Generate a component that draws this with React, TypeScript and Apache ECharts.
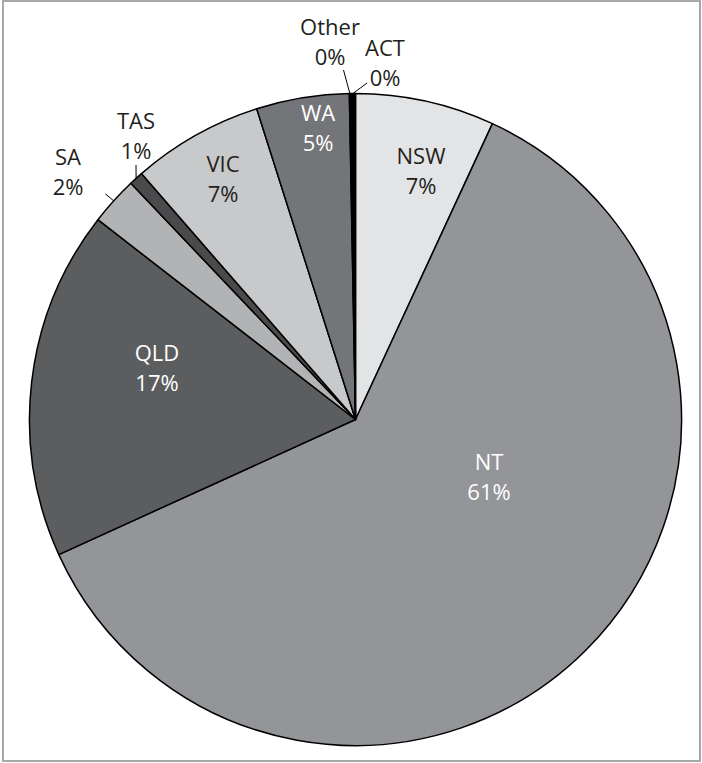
import React, { useEffect, useRef } from 'react';
import * as echarts from 'echarts';

// ---- data ----
const categories = ['NSW', 'NT', 'QLD', 'SA', 'TAS', 'VIC', 'WA', 'Other', 'ACT'];
const shares = [6.9, 61.3, 17.3, 2.4, 0.7, 6.5, 4.6, 0.05, 0.25];

// ---- styles / layout ----
const sliceColors = ['#e3e4e5', '#939598', '#5c5d5f', '#b2b3b5', '#4a4a4c', '#c8c9cb', '#747578', '#9a9a9a', '#000000'];
const labelColors = ['#231f20', '#ffffff', '#ffffff', '#231f20', '#231f20', '#231f20', '#ffffff', '#231f20', '#231f20'];
const outsideLabel = [false, false, false, true, true, false, false, true, true];
const CENTER = [355.5, 419.5];
const RADIUS = 326;
const labelAnchors: number[][] = [
  [421, 170], [489, 476], [157, 367], [68, 171], [136, 135], [223, 178], [318, 127], [330, 41], [385, 62],
];
const leaderEnds: (number[] | null)[] = [
  null, null, null, [105.5, 194], [136, 165], null, null, [343.5, 70], [367, 83],
];
const FONT = '"Open Sans", "Noto Sans", sans-serif';

export default function App() {
  const ref = useRef<HTMLDivElement>(null);
  useEffect(() => {
    if (!ref.current) return;
    const chart = echarts.init(ref.current, undefined, { renderer: 'svg' });
    const total = shares.reduce((a, b) => a + b, 0);
    const midAngle = (i: number) => {
      let cum = 0;
      for (let k = 0; k < i; k++) cum += shares[k];
      return ((cum + shares[i] / 2) / total) * Math.PI * 2;
    };
    const data = categories.map((name, i) => ({
      name,
      value: shares[i],
      itemStyle: { color: sliceColors[i] },
      label: { color: labelColors[i], position: outsideLabel[i] ? 'outside' : 'inside' },
      labelLine: { show: outsideLabel[i] },
    }));
    chart.setOption({
      animation: false,
      graphic: [
        {
          type: 'rect',
          shape: { x: 3, y: 1, width: 697, height: 760 },
          style: { fill: 'none', stroke: '#a8a8a8', lineWidth: 2 },
          z: 0,
        },
      ],
      series: [
        {
          type: 'pie',
          center: CENTER,
          radius: RADIUS,
          startAngle: 90,
          clockwise: true,
          avoidLabelOverlap: false,
          minShowLabelAngle: 0,
          percentPrecision: 2,
          data,
          itemStyle: { borderColor: '#000000', borderWidth: 1.5 },
          emphasis: { disabled: true },
          label: {
            show: true,
            fontFamily: FONT,
            fontSize: 22,
            lineHeight: 30,
            align: 'center',
            formatter: (p: any) => `${p.name}\n${Math.round(p.percent)}%`,
          },
          labelLine: { show: true, lineStyle: { color: '#000000', width: 1 }, length: 8, length2: 0 },
          labelLayout: (p: any) => {
            const i = p.dataIndex;
            const out: any = {
              x: labelAnchors[i][0],
              y: labelAnchors[i][1],
              align: 'center',
              verticalAlign: 'middle',
            };
            const end = leaderEnds[i];
            if (end) {
              const a = midAngle(i);
              const sx = CENTER[0] + RADIUS * Math.sin(a);
              const sy = CENTER[1] - RADIUS * Math.cos(a);
              out.labelLinePoints = [[sx, sy], [end[0], end[1]], [end[0], end[1]]];
            }
            return out;
          },
        },
      ],
    });
    return () => chart.dispose();
  }, []);
  return (
    <div
      ref={ref}
      style={{ position: 'absolute', left: 0, top: 0, width: 702, height: 763, background: '#ffffff' }}
    />
  );
}
